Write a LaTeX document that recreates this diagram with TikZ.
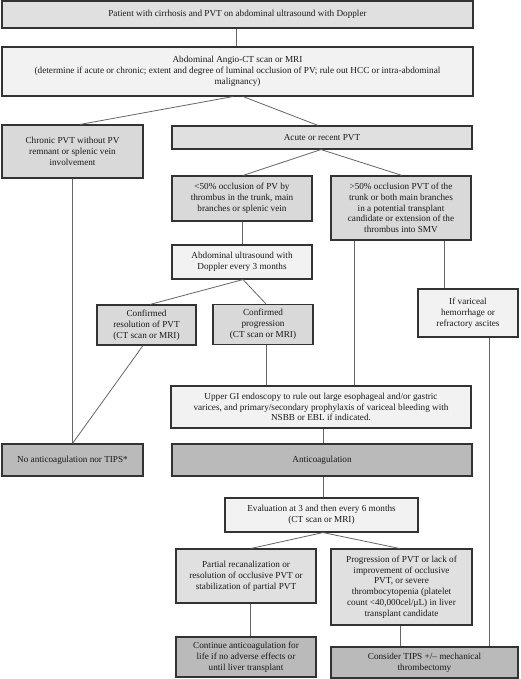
\documentclass[tikz,border=0pt]{standalone}
\usepackage{fontspec}
\setmainfont{Liberation Serif}
\begin{document}
\begin{tikzpicture}[x=1pt,y=-1pt,
  box/.style={draw=black!80,line width=1.1pt,align=center,inner sep=1pt,
    font=\fontsize{9.2}{10.8}\selectfont,text=black!90},
  lgt/.style={box,fill=black!5},
  mid/.style={box,fill=black!12},
  grey/.style={box,fill=black!15},
  dark/.style={box,fill=black!27},
  conn/.style={draw=black!60,line width=0.8pt}]
\useasboundingbox[fill=white] (0,0) rectangle (520,679);
\node[mid,minimum width=471pt,minimum height=27pt] (b1) at (237.5,14.5) {Patient with cirrhosis and PVT on abdominal ultrasound with Doppler};
\node[lgt,minimum width=471pt,minimum height=49pt] (b2) at (237.5,71.5) {Abdominal Angio-CT scan or MRI\\(determine if acute or chronic; extent and degree of luminal occlusion of PV; rule out HCC or intra-abdominal\\malignancy)};
\node[grey,minimum width=141pt,minimum height=53pt] (chr) at (72.5,151.5) {Chronic PVT without PV\\remnant or splenic vein\\involvement};
\node[mid,minimum width=300pt,minimum height=23pt] (acu) at (322,137.5) {Acute or recent PVT};
\node[grey,minimum width=140pt,minimum height=45pt] (lt) at (242,198.5) {<50\% occlusion of PV by\\thrombus in the trunk, main\\branches or splenic vein};
\node[grey,minimum width=140pt,minimum height=64pt] (gt) at (401,208) {>50\% occlusion PVT of the\\trunk or both main branches\\in a potential transplant\\candidate or extension of the\\thrombus into SMV};
\node[lgt,minimum width=140pt,minimum height=34pt] (us) at (242,262) {Abdominal ultrasound with\\Doppler every 3 months};
\node[grey,minimum width=99pt,minimum height=40pt] (res) at (146.5,325) {Confirmed\\resolution of PVT\\(CT scan or MRI)};
\node[grey,minimum width=100pt,minimum height=40pt] (prg) at (263,324.5) {Confirmed\\progression\\(CT scan or MRI)};
\node[lgt,minimum width=100pt,minimum height=48pt] (var) at (468,313) {If variceal\\hemorrhage or\\refractory ascites};
\node[lgt,minimum width=300pt,minimum height=42pt] (ugi) at (321,407) {Upper GI endoscopy to rule out large esophageal and/or gastric\\varices, and primary/secondary prophylaxis of variceal bleeding with\\NSBB or EBL if indicated.};
\node[dark,minimum width=141pt,minimum height=32pt] (noa) at (72.5,460) {No anticoagulation nor TIPS*};
\node[dark,minimum width=300pt,minimum height=32pt] (ant) at (322,460) {Anticoagulation};
\node[lgt,minimum width=193pt,minimum height=34pt] (evl) at (321.5,515) {Evaluation at 3 and then every 6 months\\(CT scan or MRI)};
\node[mid,minimum width=140pt,minimum height=54pt] (par) at (246,576) {Partial recanalization or\\resolution of occlusive PVT or\\stabilization of partial PVT};
\node[mid,minimum width=141pt,minimum height=76pt] (ppv) at (401.5,587) {Progression of PVT or lack of\\improvement of occlusive\\PVT, or severe\\thrombocytopenia (platelet\\count <40,000cel/μL) in liver\\transplant candidate};
\node[dark,minimum width=140pt,minimum height=40pt] (con) at (246,657) {Continue anticoagulation for\\life if no adverse effects or\\until liver transplant};
\node[dark,minimum width=187pt,minimum height=31pt] (cns) at (424.5,662.5) {Consider TIPS +/– mechanical\\thrombectomy};
% connectors
\draw[conn] ([xshift=-1.5pt]b1.south) -- ([xshift=-1.5pt]b2.north);
\draw[conn] ([xshift=-4.5pt]b2.south) -- ([xshift=7.5pt]chr.north);
\draw[conn] ([xshift=5.5pt]b2.south) -- ([xshift=-4pt]acu.north);
\draw[conn] ([xshift=-1pt]acu.south) -- ([xshift=1pt]lt.north);
\draw[conn] ([xshift=-1pt]acu.south) -- ([xshift=1pt]gt.north);
\draw[conn] (lt.south) -- (us.north);
\draw[conn] ([xshift=-47pt]gt.south) -- ([xshift=33pt]ugi.north);
\draw[conn] ([xshift=43pt]gt.south) -- ([xshift=-24pt]var.north);
\draw[conn] (chr.south) -- (noa.north);
\draw[conn] ([xshift=1pt]us.south) -- ([xshift=3.5pt]res.north);
\draw[conn] ([xshift=1pt]us.south) -- ([xshift=3pt]prg.north);
\draw[conn] ([xshift=-3.5pt]res.south) -- (noa.north);
\draw[conn] ([xshift=3pt]prg.south) -- ([xshift=-55pt]ugi.north);
\draw[conn] ([xshift=2pt]ugi.south) -- ([xshift=1pt]ant.north);
\draw[conn] ([xshift=21pt]var.south) -- ([xshift=64.5pt]cns.north);
\draw[conn] ([xshift=1pt]ant.south) -- ([xshift=1.5pt]evl.north);
\draw[conn] ([xshift=1.5pt]evl.south) -- ([xshift=5pt]par.north);
\draw[conn] ([xshift=1.5pt]evl.south) -- ([xshift=-2pt]ppv.north);
\draw[conn] ([xshift=4pt]par.south) -- ([xshift=4pt]con.north);
\draw[conn] ([xshift=-1.5pt]ppv.south) -- ([xshift=-24.5pt]cns.north);
\end{tikzpicture}
\end{document}
